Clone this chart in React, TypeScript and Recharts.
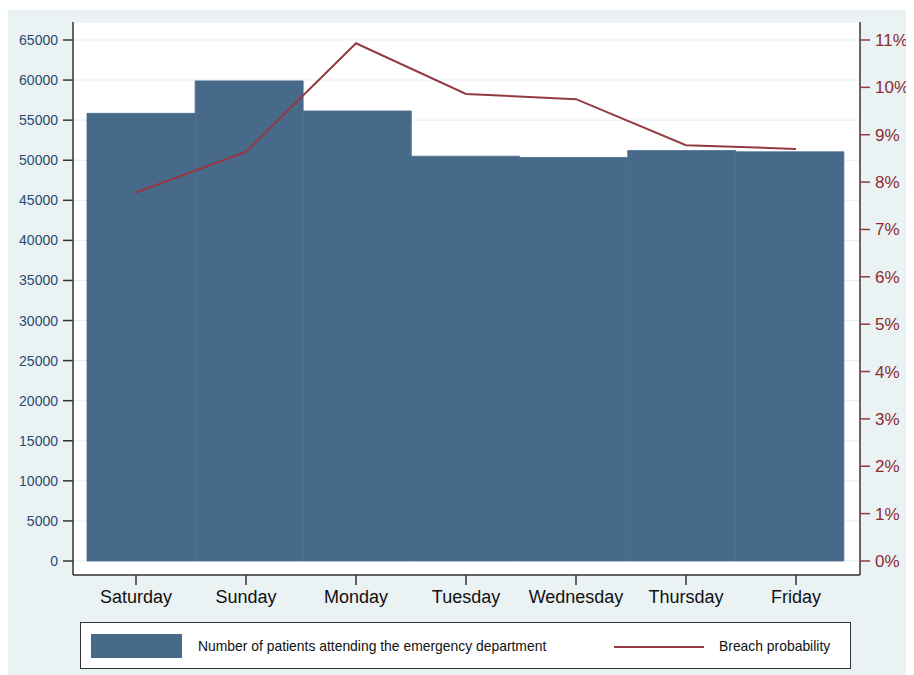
import React from 'react';
import { ComposedChart, Bar, Line, XAxis, YAxis, CartesianGrid } from 'recharts';

const days = ['Saturday', 'Sunday', 'Monday', 'Tuesday', 'Wednesday', 'Thursday', 'Friday'];
const patients = [55850, 59900, 56150, 50500, 50350, 51200, 51050];
const breachPct = [7.78, 8.64, 10.93, 9.86, 9.75, 8.78, 8.7];
const leftTicks = [0, 5000, 10000, 15000, 20000, 25000, 30000, 35000, 40000, 45000, 50000, 55000, 60000, 65000];
const rightTicks = [0, 1, 2, 3, 4, 5, 6, 7, 8, 9, 10, 11];

const data = days.map((day, i) => ({ day, patients: patients[i], breach: breachPct[i] }));

const BAR = '#476a8b';
const LINE = '#933a40';
const FONT = '"Liberation Sans", Arial, Helvetica, sans-serif';

export default function App() {
  return (
    <div style={{ position: 'relative', marginTop: 2, width: 906, height: 665, background: '#eaf2f3', fontFamily: FONT }}>
      <ComposedChart
        width={906}
        height={665}
        data={data}
        margin={{ top: 12, left: 8, right: 8, bottom: 60 }}
        barCategoryGap={0}
        barGap={0}
      >
        <CartesianGrid xAxisId="line" yAxisId="left" vertical={false} stroke="#e6eef2" fill="#ffffff" />
        <XAxis
          xAxisId="line"
          dataKey="day"
          height={40}
          padding={{ left: 8, right: 9 }}
          tickSize={10}
          tickMargin={5}
          axisLine={{ stroke: '#333', strokeWidth: 1.5 }}
          tickLine={{ stroke: '#333', strokeWidth: 1.5 }}
          tick={{ fill: '#111', fontSize: 18, fontFamily: FONT }}
        />
        {/* bars sit on a slightly narrower band than the day ticks */}
        <XAxis xAxisId="bars" dataKey="day" hide height={0} padding={{ left: 14, right: 16 }} />
        <YAxis
          yAxisId="left"
          orientation="left"
          width={57}
          domain={[-1747, 67246]}
          ticks={leftTicks}
          allowDataOverflow
          interval={0}
          tickSize={10}
          tickMargin={5}
          axisLine={{ stroke: '#333', strokeWidth: 1.5 }}
          tickLine={{ stroke: '#333', strokeWidth: 1.5 }}
          tick={{ fill: '#2b4c70', fontSize: 14, fontFamily: FONT }}
        />
        <YAxis
          yAxisId="right"
          orientation="right"
          width={46}
          domain={[-0.296, 11.38]}
          ticks={rightTicks}
          allowDataOverflow
          interval={0}
          tickSize={10}
          tickMargin={5}
          tickFormatter={(v: number) => `${v}%`}
          axisLine={{ stroke: '#333', strokeWidth: 1.5 }}
          tickLine={{ stroke: LINE, strokeWidth: 1.5 }}
          tick={{ fill: '#8c2b30', fontSize: 17, fontFamily: FONT }}
        />
        <Bar xAxisId="bars" yAxisId="left" dataKey="patients" fill={BAR} stroke={BAR} strokeWidth={0.8} isAnimationActive={false} />
        <Line
          xAxisId="line"
          yAxisId="right"
          type="linear"
          dataKey="breach"
          stroke={LINE}
          strokeWidth={2}
          dot={false}
          activeDot={false}
          isAnimationActive={false}
        />
      </ComposedChart>

      <div
        style={{
          position: 'absolute',
          left: 72,
          top: 612,
          width: 769,
          height: 45,
          background: '#fff',
          border: '1px solid #333',
          fontSize: 13.9,
          color: '#111',
        }}
      >
        <span style={{ position: 'absolute', left: 10, top: 11, width: 91, height: 24, background: BAR }} />
        <span style={{ position: 'absolute', left: 117, top: 15, whiteSpace: 'nowrap' }}>
          Number of patients attending the emergency department
        </span>
        <span style={{ position: 'absolute', left: 533, top: 23, width: 90, height: 2, background: LINE }} />
        <span style={{ position: 'absolute', left: 638, top: 15, whiteSpace: 'nowrap' }}>Breach probability</span>
      </div>
    </div>
  );
}
